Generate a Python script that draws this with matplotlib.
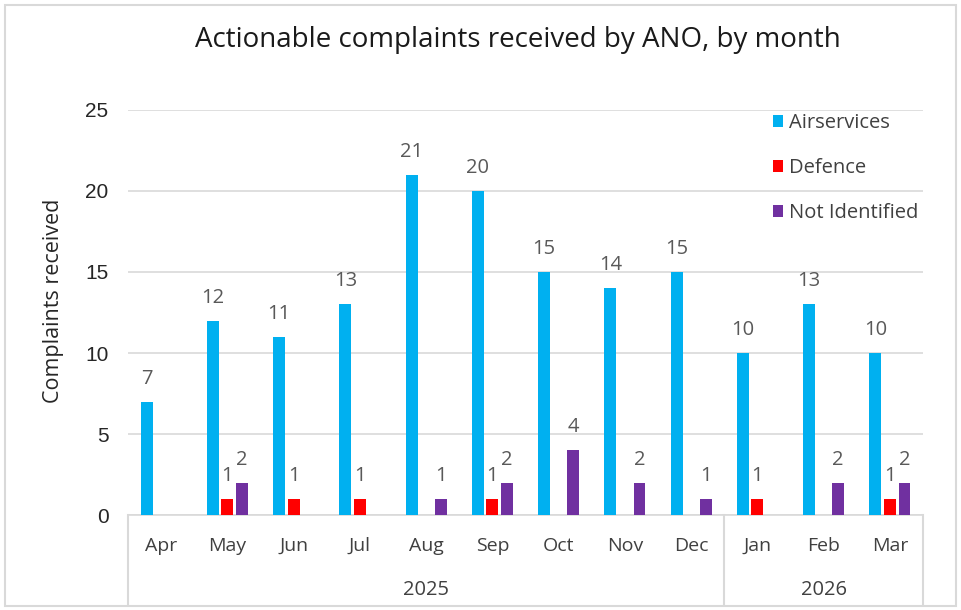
import numpy as np
import matplotlib
matplotlib.use("Agg")
import matplotlib.pyplot as plt
from matplotlib.patches import Rectangle

matplotlib.rc('font', family=['Open Sans', 'DejaVu Sans'])

months = ['Apr', 'May', 'Jun', 'Jul', 'Aug', 'Sep', 'Oct', 'Nov', 'Dec', 'Jan', 'Feb', 'Mar']
years = ['2025', '2026']
year_sizes = [9, 3]

airservices = [7, 12, 11, 13, 21, 20, 15, 14, 15, 10, 13, 10]
defence = [0, 1, 1, 1, 0, 1, 0, 0, 0, 1, 0, 1]
not_identified = [0, 2, 0, 0, 1, 2, 4, 2, 1, 0, 2, 2]

series = [("Airservices", airservices, "#00B0F0"),
          ("Defence", defence, "#FF0000"),
          ("Not Identified", not_identified, "#7030A0")]

text_col = "#404040"
label_col = "#595959"
grid_col = "#D9D9D9"

fig = plt.figure(figsize=(9.61, 6.10), dpi=100)
ax = fig.add_axes([0.1332, 0.1557, 0.8273, 0.664])

x = np.arange(len(months))
width = 0.18
offsets = [-0.22, 0.0, 0.22]

for (name, vals, col), off in zip(series, offsets):
    bars = ax.bar(x + off, vals, width, color=col, label=name, zorder=3)
    for b, v in zip(bars, vals):
        if v > 0:
            ax.text(b.get_x() + b.get_width() / 2, v + 0.8, str(v), ha='center', va='bottom',
                    fontsize=14.5, color=label_col)

ax.set_xlim(-0.5, len(months) - 0.5)
ax.set_ylim(0, 25)
ax.set_yticks(range(0, 26, 5))
ax.yaxis.grid(True, color=grid_col, linewidth=1.2, zorder=0)
ax.tick_params(axis='y', length=0, labelsize=15, labelcolor='#262626', pad=14)
for lab in ax.get_yticklabels():
    lab.set_family(['Liberation Sans'])
ax.set_xticks([])
for s in ['top', 'right', 'left']:
    ax.spines[s].set_visible(False)
ax.spines['bottom'].set_color(grid_col)
ax.spines['bottom'].set_linewidth(1.2)

ax.set_ylabel("Complaints received", fontsize=15.5, color='#262626')
ax.yaxis.set_label_coords(-0.081, 0.53)

# two-level category axis
tr = ax.get_xaxis_transform()
depth = -0.22
for i, m in enumerate(months):
    ax.text(i, -0.077, m, transform=tr, ha='center', va='center', fontsize=14, color=text_col)
bounds = [0]
for n in year_sizes:
    bounds.append(bounds[-1] + n)
for b in bounds:
    ax.plot([b - 0.5, b - 0.5], [0, depth], transform=tr, color=grid_col, linewidth=1.5,
            clip_on=False)
for yr, a, b in zip(years, bounds[:-1], bounds[1:]):
    ax.text((a + b) / 2 - 0.5, -0.185, yr, transform=tr, ha='center', va='center',
            fontsize=14.5, color=text_col)

fig.text(0.539, 0.935, "Actionable complaints received by ANO, by month", ha='center',
         va='center', fontsize=20, color='#1a1a1a')

leg = ax.legend(loc='upper left', bbox_to_anchor=(0.811, 0.993), frameon=False, fontsize=14.5,
                labelspacing=1.25, handlelength=0.5, handleheight=0.55, handletextpad=0.3,
                borderaxespad=0, borderpad=0, labelcolor=text_col)

fig.patches.append(Rectangle((0.005, 0.006), 0.99, 0.985, transform=fig.transFigure,
                             fill=False, edgecolor=grid_col, linewidth=1.5))

fig.savefig("out.png", dpi=100)
